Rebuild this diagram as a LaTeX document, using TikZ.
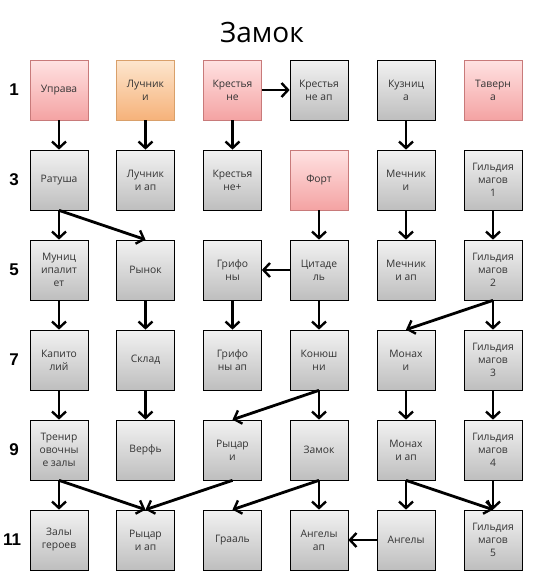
\documentclass[tikz,border=0pt]{standalone}
\usepackage{fontspec}
\setmainfont{Open Sans}
\newfontfamily\labfont{Liberation Sans}
\usetikzlibrary{arrows.meta}
\definecolor{grayT}{HTML}{F2F2F2}
\definecolor{grayB}{HTML}{BEBEBE}
\definecolor{redT}{HTML}{FFE2E2}
\definecolor{redB}{HTML}{F4A3A3}
\definecolor{redD}{HTML}{C87A7A}
\definecolor{orT}{HTML}{FDE6CE}
\definecolor{orB}{HTML}{F6B27A}
\definecolor{orD}{HTML}{D9A06A}
\definecolor{txt}{HTML}{333333}
\tikzset{
  box/.style={rectangle, minimum width=58pt, minimum height=60pt, inner sep=0pt,
    align=center, font=\fontsize{10.3}{13}\selectfont, text=txt,
    draw=black, line width=0.7pt, top color=grayT, bottom color=grayB},
  redbox/.style={box, draw=redD, top color=redT, bottom color=redB},
  orbox/.style={box, draw=orD, top color=orT, bottom color=orB},
  conn/.style={line width=2.8pt, -{Straight Barb[length=6.5pt,width=14pt,line width=2.4pt]}},
  rowlab/.style={font=\labfont\bfseries\fontsize{17}{17}\selectfont, inner sep=0pt}
}
\begin{document}
\begin{tikzpicture}[x=1pt,y=-1pt]
\useasboundingbox (0,0) rectangle (541,571);
\node[font=\fontsize{28}{28}\selectfont, text=black] (title) at (262,32) {Замок};
% row labels
\node[rowlab] (l1) at (14,90) {1};
\node[rowlab] (l3) at (14,180) {3};
\node[rowlab] (l5) at (14,270) {5};
\node[rowlab] (l7) at (14,360) {7};
\node[rowlab] (l9) at (14,450) {9};
\node[rowlab] (l11) at (12,540) {11};
% row 1
\node[redbox] (upr) at (59,90) {Управа};
\node[orbox] (luk) at (145.5,90) {Лучник\\и};
\node[redbox] (kre) at (232.5,90) {Крестья\\не};
\node[box] (kreap) at (319,90) {Крестья\\не ап};
\node[box] (kuz) at (406,90) {Кузниц\\а};
\node[redbox] (tav) at (493,90) {Таверн\\а};
% row 3
\node[box] (rat) at (59,180) {Ратуша};
\node[box] (lukap) at (145.5,180) {Лучник\\и ап};
\node[box] (krep) at (232.5,180) {Крестья\\не+};
\node[redbox] (fort) at (319,180) {Форт};
\node[box] (mech) at (406,180) {Мечник\\и};
\node[box] (g1) at (493,180) {Гильдия\\магов\\1};
% row 5
\node[box] (mun) at (59,270) {Муниц\\ипалит\\ет};
\node[box] (ryn) at (145.5,270) {Рынок};
\node[box] (grif) at (232.5,270) {Грифо\\ны};
\node[box] (cit) at (319,270) {Цитаде\\ль};
\node[box] (mechap) at (406,270) {Мечник\\и ап};
\node[box] (g2) at (493,270) {Гильдия\\магов\\2};
% row 7
\node[box] (kap) at (59,360) {Капито\\лий};
\node[box] (skl) at (145.5,360) {Склад};
\node[box] (grifap) at (232.5,360) {Грифо\\ны ап};
\node[box] (kon) at (319,360) {Конюш\\ни};
\node[box] (mon) at (406,360) {Монах\\и};
\node[box] (g3) at (493,360) {Гильдия\\магов\\3};
% row 9
\node[box] (tren) at (59,450) {Тренир\\овочны\\е залы};
\node[box] (ver) at (145.5,450) {Верфь};
\node[box] (ryc) at (232.5,450) {Рыцар\\и};
\node[box] (zam) at (319,450) {Замок};
\node[box] (monap) at (406,450) {Монах\\и ап};
\node[box] (g4) at (493,450) {Гильдия\\магов\\4};
% row 11
\node[box] (zal) at (59,540) {Залы\\героев};
\node[box] (rycap) at (145.5,540) {Рыцар\\и ап};
\node[box] (graal) at (232.5,540) {Грааль};
\node[box] (angap) at (319,540) {Ангелы\\ап};
\node[box] (ang) at (406,540) {Ангелы};
\node[box] (g5) at (493,540) {Гильдия\\магов\\5};
% connectors
\draw[conn] (upr) -- (rat);
\draw[conn] (luk) -- (lukap);
\draw[conn] (kre) -- (kreap);
\draw[conn] (kre) -- (krep);
\draw[conn] (kuz) -- (mech);
\draw[conn] (rat) -- (mun);
\draw[conn] (rat.south) -- (ryn.north);
\draw[conn] (fort) -- (cit);
\draw[conn] (mech) -- (mechap);
\draw[conn] (g1) -- (g2);
\draw[conn] (cit) -- (grif);
\draw[conn] (mun) -- (kap);
\draw[conn] (ryn) -- (skl);
\draw[conn] (grif) -- (grifap);
\draw[conn] (cit) -- (kon);
\draw[conn] (g2.south) -- (mon.north);
\draw[conn] (g2) -- (g3);
\draw[conn] (kap) -- (tren);
\draw[conn] (skl) -- (ver);
\draw[conn] (kon.south) -- (ryc.north);
\draw[conn] (kon) -- (zam);
\draw[conn] (mon) -- (monap);
\draw[conn] (g3) -- (g4);
\draw[conn] (tren) -- (zal);
\draw[conn] (tren.south) -- (rycap.north);
\draw[conn] (ryc.south) -- (rycap.north);
\draw[conn] (zam.south) -- (graal.north);
\draw[conn] (zam) -- (angap);
\draw[conn] (monap) -- (ang);
\draw[conn] (monap.south) -- (g5.north);
\draw[conn] (g4) -- (g5);
\draw[conn] (ang) -- (angap);
\end{tikzpicture}
\end{document}
